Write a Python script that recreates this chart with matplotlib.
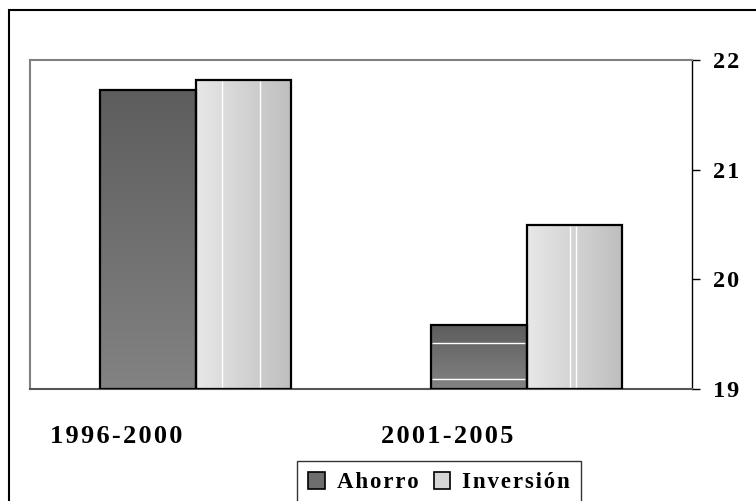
import numpy as np
import matplotlib.pyplot as plt
from matplotlib.patches import Patch, Rectangle
from matplotlib.colors import LinearSegmentedColormap

# datos
periodos = ['1996-2000', '2001-2005']
series = ['Ahorro', 'Inversión']
ahorro = [21.73, 19.58]
inversion = [21.82, 20.50]
y_ticks = [19, 20, 21, 22]

plt.rcParams['font.family'] = ['Liberation Serif', 'DejaVu Serif']
plt.rcParams['font.weight'] = 'bold'


def espaciado(s):
    # separa un poco las letras con espacios finos
    return '\u200a'.join(s)


fig = plt.figure(figsize=(7.56, 5.01), dpi=100)
ax = fig.add_axes([30 / 756, 112 / 501, 662 / 756, 329 / 501])

ymin, ymax = 19, 22
ancho = 0.29
x = np.arange(len(periodos))

cmap_oscuro = LinearSegmentedColormap.from_list('oscuro', ['#838383', '#5d5d5d'])
cmap_claro = LinearSegmentedColormap.from_list('claro', ['#e8e8e8', '#bebebe'])


def barras_degradado(pos, vals, cmap, vertical):
    barras = ax.bar(pos, np.array(vals) - ymin, bottom=ymin, width=ancho,
                    facecolor='none', edgecolor='black', linewidth=1.6, zorder=3)
    for b in barras:
        x0, y0 = b.get_x(), b.get_y()
        x1, y1 = x0 + b.get_width(), y0 + b.get_height()
        if vertical:
            grad = np.linspace(0, 1, 256).reshape(-1, 1)
        else:
            grad = np.linspace(0, 1, 256).reshape(1, -1)
        im = ax.imshow(grad, cmap=cmap, extent=[x0, x1, y0, y1], origin='lower',
                       aspect='auto', interpolation='bilinear', zorder=2)
        im.set_clip_path(b)
    return barras


b_ah = barras_degradado(x - ancho / 2, ahorro, cmap_oscuro, True)
b_in = barras_degradado(x + ancho / 2, inversion, cmap_claro, False)

# lineas blancas del sombreado
franjas_v = [[0.28, 0.67], [0.45, 0.52]]
for b, fr in zip(b_in, franjas_v):
    for f in fr:
        xx = b.get_x() + f * b.get_width()
        ax.vlines(xx, b.get_y(), b.get_y() + b.get_height() - 0.01,
                  color='white', lw=1, zorder=2.5)
franjas_h = [[], [0.28, 0.84]]
for b, fr in zip(b_ah, franjas_h):
    for f in fr:
        yy = b.get_y() + b.get_height() * (1 - f)
        ax.hlines(yy, b.get_x() + 0.005, b.get_x() + b.get_width() - 0.005,
                  color='white', lw=1, zorder=2.5)

ax.set_xlim(-0.5, 1.5)
ax.set_ylim(ymin, ymax)

ax.yaxis.tick_right()
ax.set_yticks(y_ticks)
ax.set_yticklabels([espaciado(str(t)) for t in y_ticks], fontsize=17.5, fontweight='bold')
ax.tick_params(axis='y', direction='out', length=6, width=1, pad=9, colors='black')

ax.set_xticks(x - 0.24)
ax.set_xticklabels([espaciado(p) for p in periodos], fontsize=19, fontweight='bold')
ax.tick_params(axis='x', length=0, pad=26)

for lado in ['top', 'left']:
    ax.spines[lado].set_color('#808080')
    ax.spines[lado].set_linewidth(1.5)
ax.spines['bottom'].set_color('#555555')
ax.spines['bottom'].set_linewidth(1.5)
ax.spines['right'].set_color('black')
ax.spines['right'].set_linewidth(1)

# leyenda
handles = [Patch(facecolor='#6e6e6e', edgecolor='black', linewidth=1.2),
           Patch(facecolor='#d6d6d6', edgecolor='black', linewidth=1.2)]
leg = fig.legend(handles, [espaciado(s) for s in series], loc='upper left',
                 bbox_to_anchor=(297 / 756, 40 / 501), borderaxespad=0, ncol=2,
                 frameon=True, fancybox=False, handlelength=0.7, handleheight=0.7,
                 handletextpad=0.55, columnspacing=0.65, borderpad=0.5,
                 prop={'family': ['Liberation Serif', 'DejaVu Serif'],
                       'weight': 'bold', 'size': 16.5})
leg.get_frame().set_edgecolor('black')
leg.get_frame().set_linewidth(1)

# marco exterior
fig.add_artist(Rectangle((9 / 756, -0.1), 1.0, 1.1 - 10 / 501, transform=fig.transFigure,
                         fill=False, edgecolor='black', linewidth=1.5))

fig.savefig('out.png', dpi=100)
